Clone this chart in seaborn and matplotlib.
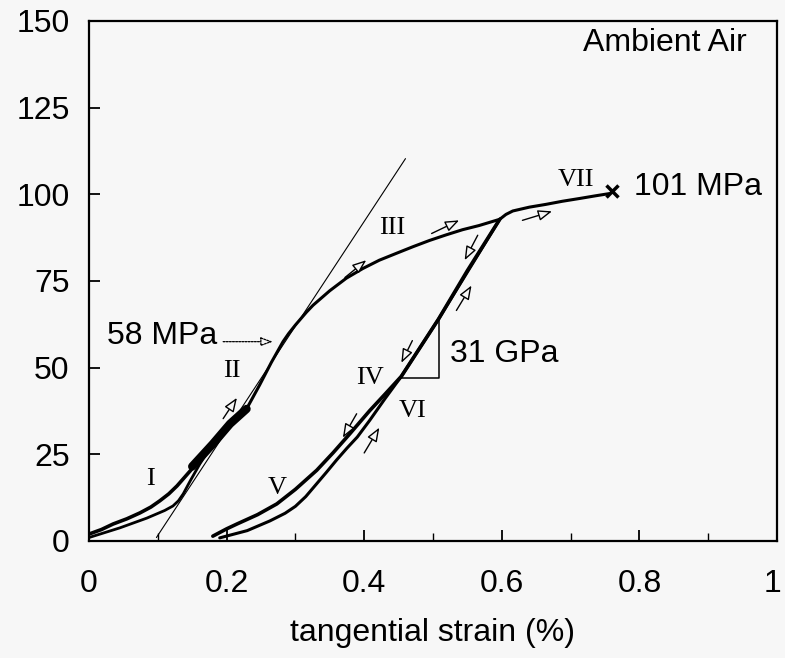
import matplotlib
matplotlib.use("Agg")
import matplotlib.pyplot as plt
import matplotlib.transforms as mtransforms
import seaborn as sns
import pandas as pd
import numpy as np

# ---- data ----
load1_x = [0.0, 0.018, 0.035, 0.055, 0.074, 0.09, 0.103, 0.116, 0.128, 0.147, 0.161, 0.18, 0.205, 0.229]
load1_y = [2.0, 3.3, 4.9, 6.4, 8.1, 9.8, 11.6, 13.6, 15.9, 20.2, 23.5, 28.0, 33.8, 38.1]
unload1_x = [0.229, 0.205, 0.18, 0.161, 0.147, 0.137, 0.13, 0.122, 0.11, 0.084, 0.045, 0.0]
unload1_y = [38.1, 33.8, 28.0, 22.2, 17.3, 13.6, 11.6, 10.1, 8.8, 6.6, 3.8, 1.0]
band_x = [0.15, 0.18, 0.205, 0.229]
band_y = [21.5, 28.0, 33.8, 38.1]

main_x = [0.229, 0.248, 0.265, 0.282, 0.29, 0.30, 0.316, 0.3256, 0.35, 0.374, 0.398, 0.422, 0.447,
          0.471, 0.495, 0.519, 0.543, 0.567, 0.597]
main_y = [38.1, 45.0, 51.5, 57.5, 59.8, 62.3, 66.0, 68.0, 72.2, 75.8, 78.6, 81.0, 83.0,
          84.9, 86.7, 88.3, 89.8, 91.0, 92.8]
vii_x = [0.597, 0.606, 0.616, 0.64, 0.664, 0.688, 0.713, 0.737, 0.756]
vii_y = [92.8, 94.2, 95.2, 96.3, 97.1, 98.0, 98.8, 99.6, 100.2]

unload2_x = [0.597, 0.55, 0.508, 0.454, 0.43, 0.408, 0.379, 0.355, 0.331, 0.30, 0.273, 0.245, 0.215, 0.20, 0.18]
unload2_y = [92.8, 78.0, 64.0, 47.5, 42.3, 37.6, 30.9, 25.5, 20.4, 14.9, 10.7, 7.6, 4.9, 3.5, 1.4]
reload2_x = [0.19, 0.23, 0.263, 0.285, 0.30, 0.315, 0.33, 0.345, 0.36, 0.375, 0.39, 0.408, 0.43, 0.454, 0.508, 0.597]
reload2_y = [0.9, 3.0, 5.8, 8.0, 10.0, 12.8, 16.3, 19.8, 23.4, 26.8, 30.0, 34.8, 41.0, 47.5, 64.0, 92.8]

tangent_x = [0.098, 0.460]
tangent_y = [1.0, 110.3]
tri_x = [0.454, 0.508, 0.508]
tri_y = [47.0, 47.0, 64.0]

fracture_x = [0.76]
fracture_y = [101]

arrow_tail_x = [0.195, 0.372, 0.498, 0.630, 0.565, 0.534, 0.470, 0.389, 0.400]
arrow_tail_y = [35.3, 76.0, 88.7, 92.5, 88.2, 66.5, 57.8, 36.7, 25.4]
arrow_head_x = [0.215, 0.403, 0.538, 0.673, 0.546, 0.556, 0.454, 0.369, 0.422]
arrow_head_y = [41.3, 81.0, 92.5, 95.1, 81.0, 73.7, 51.4, 29.8, 32.7]

roman_labels = ["I", "II", "III", "IV", "V", "VI", "VII"]
roman_x = [0.089, 0.208, 0.441, 0.408, 0.273, 0.470, 0.708]
roman_y = [18.0, 49.0, 90.2, 47.1, 15.3, 37.6, 104.0]

x_ticks = [0, 0.2, 0.4, 0.6, 0.8, 1]
x_ticklabels = ["0", "0.2", "0.4", "0.6", "0.8", "1"]
y_ticks = [0, 25, 50, 75, 100, 125, 150]

# ---- style ----
sns.set_theme(style="ticks")
bg = "#f7f7f7"
plt.rcParams["font.family"] = ["Liberation Sans", "DejaVu Sans"]
for k in ["text.color", "axes.labelcolor", "xtick.color", "ytick.color", "axes.edgecolor"]:
    plt.rcParams[k] = "black"

fig = plt.figure(figsize=(7.85, 6.58), dpi=100, facecolor=bg)
ax = fig.add_axes([89 / 785, (658 - 541) / 658, (777 - 89) / 785, (541 - 21) / 658])
ax.set_facecolor(bg)

def curve(xs, ys, lw):
    df = pd.DataFrame({"x": xs, "y": ys})
    sns.lineplot(data=df, x="x", y="y", sort=False, estimator=None, ax=ax,
                 color="black", lw=lw)

curve(tangent_x, tangent_y, 0.8)
curve(load1_x, load1_y, 2.6)
curve(unload1_x, unload1_y, 2.0)
curve(band_x, band_y, 6.0)
curve(main_x, main_y, 2.2)
curve(vii_x, vii_y, 2.2)
curve(unload2_x, unload2_y, 2.6)
curve(reload2_x, reload2_y, 2.2)
curve(tri_x, tri_y, 1.1)

ax.plot(fracture_x, fracture_y, marker="x", color="black", ms=9, mew=2.5, ls="none")

for tx, ty, hx, hy in zip(arrow_tail_x, arrow_tail_y, arrow_head_x, arrow_head_y):
    ax.annotate("", xy=(hx, hy), xytext=(tx, ty),
                arrowprops=dict(arrowstyle="-|>,head_length=0.7,head_width=0.27",
                                facecolor=bg, edgecolor="black", lw=1.0,
                                shrinkA=0, shrinkB=0))

for lab, x, y in zip(roman_labels, roman_x, roman_y):
    ax.text(x, y, lab, family=["Liberation Serif", "DejaVu Serif"], fontsize=19,
            ha="center", va="center")

ax.annotate("", xy=(0.267, 57.5), xytext=(0.195, 57.5),
            arrowprops=dict(arrowstyle="-|>,head_length=0.6,head_width=0.22",
                            facecolor=bg, edgecolor="black", lw=0.9, ls=(0, (1.5, 1)),
                            shrinkA=0, shrinkB=0))
ax.text(0.187, 59.2, "58 MPa", fontsize=23, ha="right", va="center")
ax.text(0.524, 54.0, "31 GPa", fontsize=23, ha="left", va="center")
ax.text(0.792, 102.0, "101 MPa", fontsize=23, ha="left", va="center")
ax.text(0.956, 143.6, "Ambient Air", fontsize=23, ha="right", va="center")

ax.set_xlim(0, 1)
ax.set_ylim(0, 150)
ax.set_xticks(x_ticks)
ax.set_xticklabels(x_ticklabels)
ax.set_xticks(np.arange(0.1, 1.0, 0.2), minor=True)
ax.set_yticks(y_ticks)
ax.tick_params(axis="both", which="major", direction="in", length=8, width=1.3,
               labelsize=23)
ax.tick_params(axis="y", which="major", pad=14)
ax.tick_params(axis="x", which="major", pad=20)
ax.tick_params(axis="x", which="minor", direction="in", length=6, width=1.0)
ax.set_xlabel("tangential strain (%)", fontsize=23, labelpad=14)
ax.set_ylabel("")
for s in ax.spines.values():
    s.set_visible(True)
    s.set_linewidth(1.6)
    s.set_color("black")

# keep the "1" label inside the canvas
last = ax.get_xticklabels()[-1]
last.set_transform(last.get_transform() + mtransforms.ScaledTranslation(-5 / 100, 0, fig.dpi_scale_trans))

fig.savefig("out.png", dpi=100, facecolor=bg)
